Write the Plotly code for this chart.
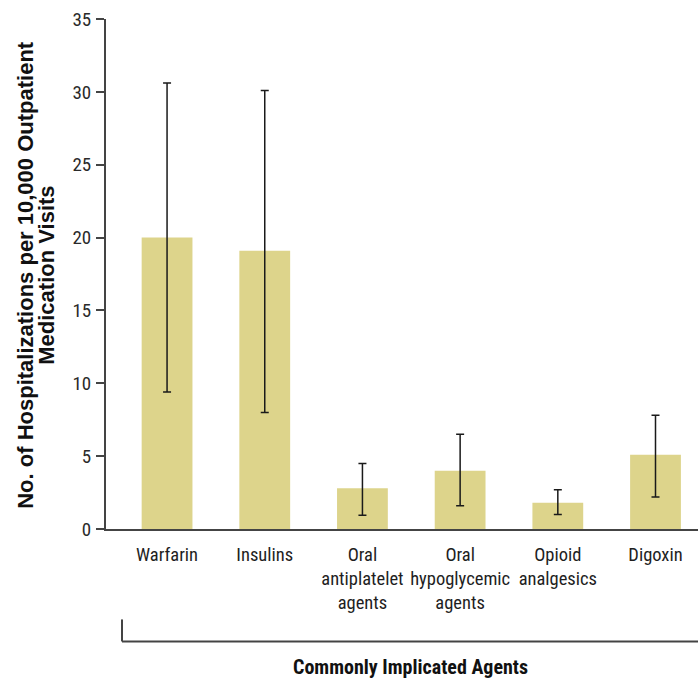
import plotly.graph_objects as go

categories = ["Warfarin", "Insulins", "Oral<br>antiplatelet<br>agents",
              "Oral<br>hypoglycemic<br>agents", "Opioid<br>analgesics", "Digoxin"]
rates = [20.0, 19.1, 2.8, 4.0, 1.8, 5.1]
ci_upper = [30.6, 30.1, 4.5, 6.5, 2.7, 7.8]
ci_lower = [9.4, 8.0, 0.95, 1.6, 1.0, 2.2]

err_plus = [u - r for u, r in zip(ci_upper, rates)]
err_minus = [r - l for r, l in zip(rates, ci_lower)]

NARROW = "Liberation Sans Narrow, Roboto Condensed, DejaVu Sans Condensed, Arial Narrow, sans-serif"
BOLD = "Liberation Sans, Arial, sans-serif"

fig = go.Figure()
fig.add_trace(go.Bar(
    x=list(range(len(categories))),
    y=rates,
    width=0.52,
    marker=dict(color="#DDD48B", line=dict(width=0)),
    error_y=dict(type="data", symmetric=False, array=err_plus, arrayminus=err_minus,
                 color="#1a1a1a", thickness=1.5, width=4),
    showlegend=False,
))

fig.update_layout(
    width=698, height=680,
    margin=dict(l=106, r=0, t=19, b=150.5, pad=0),
    plot_bgcolor="white", paper_bgcolor="white",
    font=dict(family=NARROW, color="#222"),
    xaxis=dict(
        range=[-0.625, 5.435],
        tickmode="array", tickvals=list(range(len(categories))), ticktext=categories,
        ticks="", tickangle=0, showgrid=False, zeroline=False,
        showline=True, linecolor="#444", linewidth=2,
        tickfont=dict(family=NARROW, size=18.5, color="#1e1e1e"),
        ticklabelstandoff=8,
    ),
    yaxis=dict(
        range=[0, 35], dtick=5, tick0=0,
        ticks="outside", ticklen=8, tickwidth=1.5, tickcolor="#444",
        showgrid=False, zeroline=False,
        showline=True, linecolor="#444", linewidth=2,
        tickfont=dict(family=NARROW, size=19, color="#2a2a2a"),
        ticklabelstandoff=1,
    ),
    shapes=[
        dict(type="line", xref="paper", yref="paper", x0=0.027, x1=0.027, y0=-0.1773, y1=-0.2204,
             line=dict(color="#444", width=2)),
        dict(type="line", xref="paper", yref="paper", x0=0.027, x1=1.0, y0=-0.2204, y1=-0.2204,
             line=dict(color="#444", width=2)),
    ],
    annotations=[
        dict(text="Commonly Implicated Agents", xref="paper", yref="paper", x=0.514, y=-0.2713,
             xanchor="center", yanchor="middle", showarrow=False,
             font=dict(family=NARROW, size=20, color="#111", weight="bold")),
        dict(text="No. of Hospitalizations per 10,000 Outpatient",
             xref="paper", yref="paper", x=-0.1351, y=0.4985, textangle=-90,
             xanchor="center", yanchor="middle", showarrow=False,
             font=dict(family=BOLD, size=22, color="#111", weight="bold")),
        dict(text="Medication Visits",
             xref="paper", yref="paper", x=-0.0997, y=0.4985, textangle=-90,
             xanchor="center", yanchor="middle", showarrow=False,
             font=dict(family=BOLD, size=22, color="#111", weight="bold")),
    ],
)

fig.write_html("out.html", config={"displayModeBar": False},
               post_script="document.body.style.margin='0';")
